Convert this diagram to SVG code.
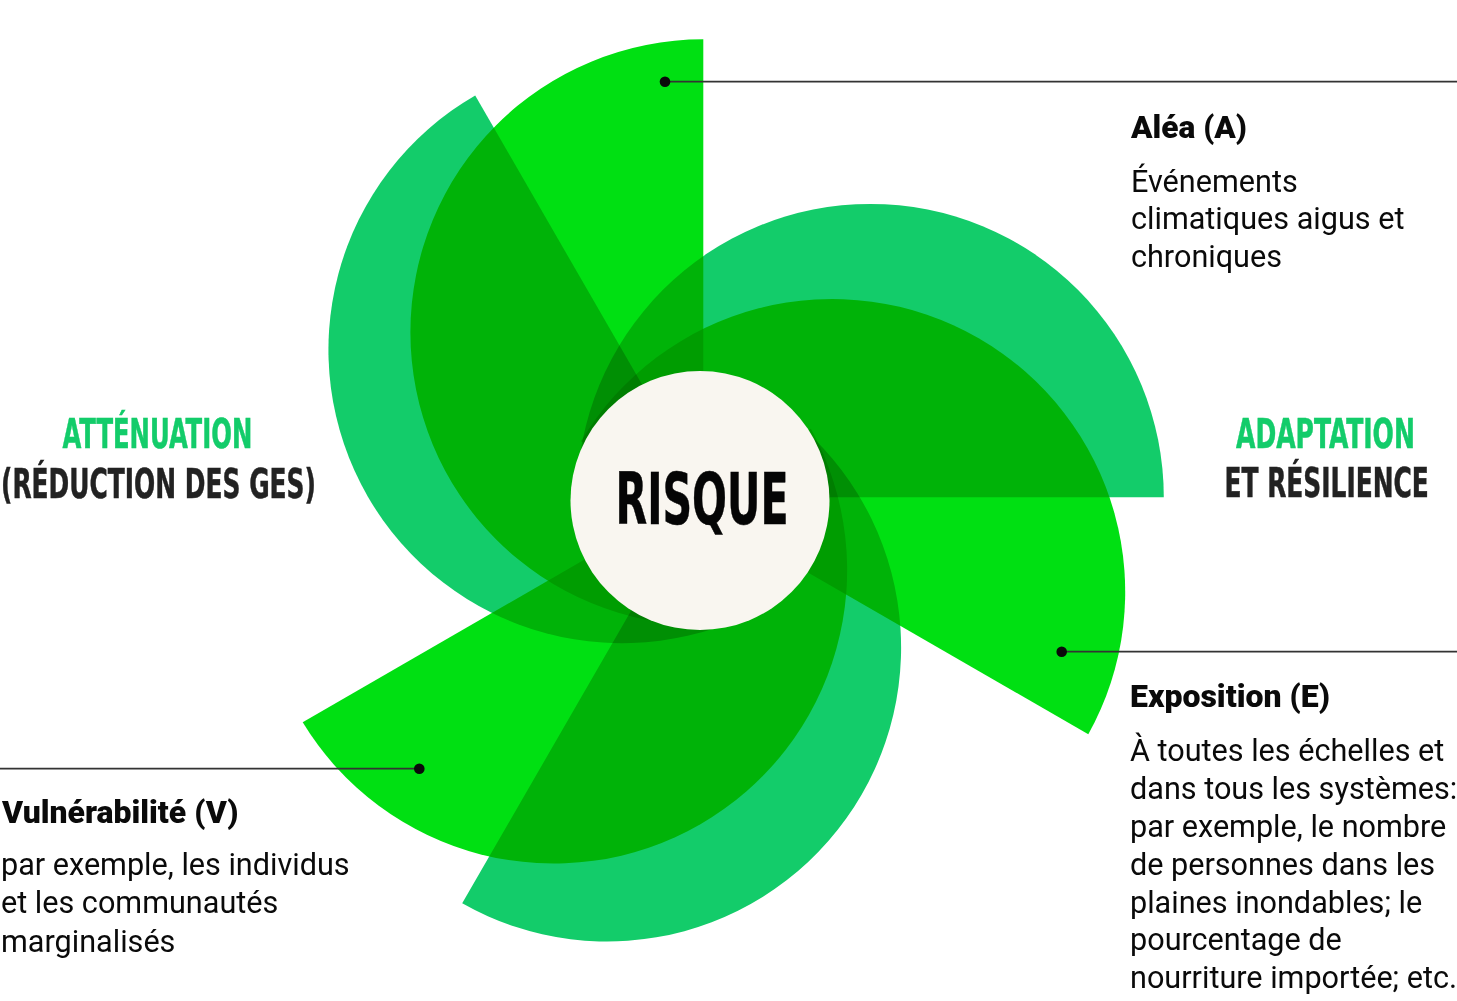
<svg xmlns="http://www.w3.org/2000/svg" width="1457" height="1001" viewBox="0 0 1457 1001">
  <style>
    .bright { fill: #00E012; mix-blend-mode: multiply; }
    .medium { fill: #13CC6A; mix-blend-mode: multiply; }
    .lead { stroke: #333333; stroke-width: 1.7; fill: none; }
    .dot { fill: #0A0A0A; }
    .cond { font-family: "DejaVu Sans Condensed", "Liberation Sans Narrow", "Liberation Sans", sans-serif; font-weight: bold; stroke-width: 0.5; }
    .green { fill: #13CC6A; stroke: #13CC6A; }
    .darkt { fill: #222222; stroke: #222222; }
    .head { font-family: Roboto, "Liberation Sans", sans-serif; font-weight: 900; font-size: 31.5px; fill: #0A0A0A; }
    .body { font-family: Roboto, "Liberation Sans", sans-serif; font-size: 30.6px; fill: #0A0A0A; }
  </style>
  <rect width="1457" height="1001" fill="#FFFFFF"/>
  <g id="blades" style="isolation:isolate">
    <g id="blade-alea"><path class="bright" d="M703.3,39.3 A293,293 0 0 0 703.3,625.3 Z"/></g>
    <g id="blade-medium-topleft"><path class="medium" d="M475.2,95.5 A293.5,293.5 0 0 0 768.7,603.9 Z"/></g>
    <g id="blade-medium-right"><path class="medium" d="M1163.8,497.3 A293.4,293.4 0 0 0 577,497.3 Z"/></g>
    <g id="blade-exposition"><path class="bright" d="M1088.3,734.3 A293,293 0 0 0 580.9,441.3 Z"/></g>
    <g id="blade-vulnerabilite"><path class="bright" d="M302.7,722.3 A293.5,293.5 0 0 0 810.9,428.8 Z"/></g>
    <g id="blade-medium-bottom"><path class="medium" d="M462.2,903.3 A294,294 0 0 0 756.2,394.1 Z"/></g>
  </g>
  <g id="risque">
    <circle cx="700" cy="500.5" r="129.5" fill="#F9F6F0"/>
    <text class="cond" transform="translate(615.5,524) scale(0.633,1)" x="0" y="0" font-size="72" fill="#050505" stroke="#050505" stroke-width="0.8" textLength="273.5" lengthAdjust="spacingAndGlyphs">RISQUE</text>
  </g>
  <g id="connectors">
    <line class="lead" x1="665" y1="81.7" x2="1457" y2="81.7"/>
    <circle class="dot" cx="665" cy="81.7" r="5.3"/>
    <line class="lead" x1="1061.7" y1="651.7" x2="1457" y2="651.7"/>
    <circle class="dot" cx="1061.7" cy="651.7" r="5.3"/>
    <line class="lead" x1="0" y1="768.7" x2="419.3" y2="768.7"/>
    <circle class="dot" cx="419.3" cy="768.7" r="5.3"/>
  </g>
  <g id="label-attenuation">
    <text class="cond green" transform="translate(62.5,448.3) scale(0.641,1)" x="0" y="0" font-size="41" textLength="296" lengthAdjust="spacingAndGlyphs">ATTÉNUATION</text>
    <text class="cond darkt" transform="translate(1,498.3) scale(0.673,1)" x="0" y="0" font-size="41" textLength="468" lengthAdjust="spacingAndGlyphs">(RÉDUCTION DES GES)</text>
  </g>
  <g id="label-adaptation">
    <text class="cond green" transform="translate(1236,447.7) scale(0.66,1)" x="0" y="0" font-size="41" textLength="271" lengthAdjust="spacingAndGlyphs">ADAPTATION</text>
    <text class="cond darkt" transform="translate(1224.5,497.3) scale(0.672,1)" x="0" y="0" font-size="41" textLength="304" lengthAdjust="spacingAndGlyphs">ET RÉSILIENCE</text>
  </g>
  <g id="label-alea">
    <text class="head" x="1131" y="138.3" textLength="116" lengthAdjust="spacingAndGlyphs">Aléa (A)</text>
    <text class="body" x="1131" y="191.7">Événements</text>
    <text class="body" x="1131" y="229.3">climatiques aigus et</text>
    <text class="body" x="1131" y="266.7">chroniques</text>
  </g>
  <g id="label-exposition">
    <text class="head" x="1130" y="707.3" textLength="200" lengthAdjust="spacingAndGlyphs">Exposition (E)</text>
    <text class="body" x="1130" y="760.7">À toutes les échelles et</text>
    <text class="body" x="1130" y="799">dans tous les systèmes:</text>
    <text class="body" x="1130" y="836.7">par exemple, le nombre</text>
    <text class="body" x="1130" y="875">de personnes dans les</text>
    <text class="body" x="1130" y="912.7">plaines inondables; le</text>
    <text class="body" x="1130" y="950">pourcentage de</text>
    <text class="body" x="1130" y="988.3">nourriture importée; etc.</text>
  </g>
  <g id="label-vulnerabilite">
    <text class="head" x="2" y="823.3" textLength="236.5" lengthAdjust="spacingAndGlyphs">Vulnérabilité (V)</text>
    <text class="body" x="1" y="875">par exemple, les individus</text>
    <text class="body" x="1" y="913.3">et les communautés</text>
    <text class="body" x="1" y="951.7">marginalisés</text>
  </g>
</svg>
